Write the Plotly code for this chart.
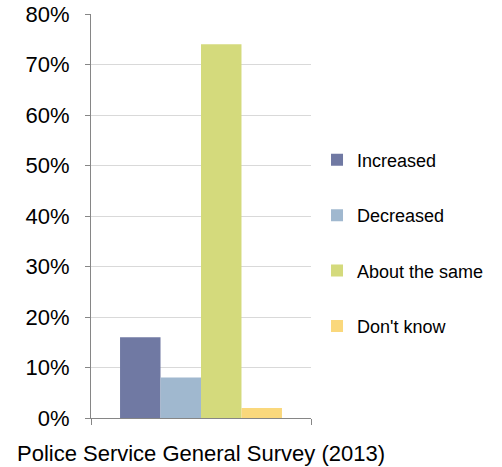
import plotly.graph_objects as go

# Survey responses, share of respondents (%)
survey = ["Police Service General Survey (2013)"]
responses = ["Increased", "Decreased", "About the same", "Don't know"]
shares = [16, 8, 74, 2]
colors = ["#7079A3", "#A0B8CF", "#D4DA7C", "#FAD87C"]

fig = go.Figure()
for name, val, col in zip(responses, shares, colors):
    fig.add_trace(go.Bar(
        x=survey, y=[val], name=name, marker_color=col,
        marker_line_width=0, legendgroup=name,
    ))

fig.update_layout(
    width=502, height=467,
    margin=dict(l=91, r=191, t=14, b=49),
    paper_bgcolor="white", plot_bgcolor="white",
    barmode="group", bargap=0.264, bargroupgap=0,
    font=dict(family="Liberation Sans, Arial, sans-serif", color="#000000"),
    showlegend=True,
    # legend placed in container coordinates so it never pushes the plot area
    legend=dict(
        xref="container", x=0.6315, xanchor="left",
        y=0.433, yanchor="middle",
        font=dict(size=18), tracegroupgap=29, itemwidth=30,
        bgcolor="rgba(0,0,0,0)",
    ),
)
fig.update_xaxes(
    type="category", range=[-0.5, 0.5], tickson="boundaries",
    ticks="outside", ticklen=6, tickcolor="#868686",
    showline=True, linecolor="#868686", linewidth=1,
    tickfont=dict(size=22), tickangle=0, ticklabelstandoff=16,
    showgrid=False, automargin=False,
)
fig.update_yaxes(
    range=[0, 80], dtick=10, ticksuffix="%",
    ticks="outside", ticklen=5, tickcolor="#868686",
    showline=True, linecolor="#868686", linewidth=1,
    showgrid=True, gridcolor="#D9D9D9", gridwidth=1,
    tickfont=dict(size=22), ticklabelstandoff=11, zeroline=False,
    automargin=False,
)

fig.write_html("out.html")
